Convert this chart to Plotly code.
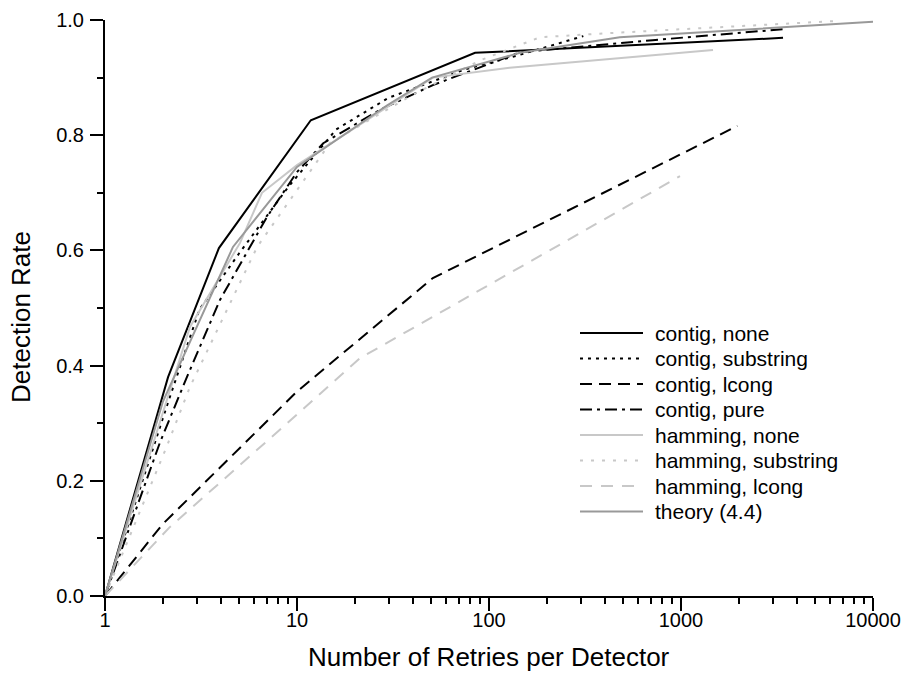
import plotly.graph_objects as go

# Detection rate versus number of retries per detector
contig_none_x = [1, 2.13, 3.92, 11.8, 84.6, 3400]
contig_none_y = [0.0, 0.38, 0.604, 0.826, 0.943, 0.969]

contig_substring_x = [1, 2.1, 3.1, 5.0, 9.0, 16, 30, 76, 133, 310]
contig_substring_y = [0.0, 0.33, 0.497, 0.595, 0.71, 0.81, 0.865, 0.915, 0.936, 0.972]

contig_lcong_x = [1, 2.0, 10.0, 51, 1965]
contig_lcong_y = [0.0, 0.125, 0.355, 0.552, 0.816]

contig_pure_x = [1, 1.93, 2.67, 3.97, 6.97, 10, 13.7, 27, 51, 145, 712, 3400]
contig_pure_y = [0.0, 0.266, 0.38, 0.514, 0.658, 0.736, 0.786, 0.844, 0.887, 0.944, 0.965, 0.984]

hamming_none_x = [1, 2.18, 2.77, 5.05, 6.57, 10, 51, 128, 1468]
hamming_none_y = [0.0, 0.357, 0.467, 0.613, 0.70, 0.748, 0.90, 0.917, 0.948]

hamming_substring_x = [1, 2.1, 2.77, 5.5, 6.2, 14.9, 40, 90, 184, 410, 6200]
hamming_substring_y = [0.0, 0.26, 0.363, 0.571, 0.606, 0.787, 0.87, 0.93, 0.97, 0.977, 0.998]

hamming_lcong_x = [1, 2.18, 10.4, 21.3, 207, 988]
hamming_lcong_y = [0.0, 0.12, 0.32, 0.413, 0.60, 0.729]

theory_x = [1, 2, 4.64, 10, 29.5, 50.5, 145, 480, 10000]
theory_y = [0.0, 0.337, 0.606, 0.745, 0.852, 0.90, 0.943, 0.970, 0.997]

x_tick_vals = [1, 10, 100, 1000, 10000]
x_tick_text = ["1", "10", "100", "1000", "10000"]

BLACK = "#000000"
LIGHT = "#c8c8c8"
MID = "#999999"
FONT = "Liberation Sans, Arial, Helvetica, sans-serif"

series = [
    ("contig, none", contig_none_x, contig_none_y, BLACK, "solid"),
    ("contig, substring", contig_substring_x, contig_substring_y, BLACK, "3px,5px"),
    ("contig, lcong", contig_lcong_x, contig_lcong_y, BLACK, "12px,7px"),
    ("contig, pure", contig_pure_x, contig_pure_y, BLACK, "12px,5px,3px,5px"),
    ("hamming, none", hamming_none_x, hamming_none_y, LIGHT, "solid"),
    ("hamming, substring", hamming_substring_x, hamming_substring_y, LIGHT, "3px,8px"),
    ("hamming, lcong", hamming_lcong_x, hamming_lcong_y, LIGHT, "12px,9px"),
    ("theory (4.4)", theory_x, theory_y, MID, "solid"),
]

fig = go.Figure()
for name, xs, ys, color, dash in series:
    fig.add_trace(go.Scatter(
        x=xs, y=ys, mode="lines", name=name,
        line=dict(color=color, width=2, dash=dash),
        showlegend=False,
    ))

# Hand-drawn legend block (line samples + labels)
L, R, T, B = 105, 873, 20, 596
W, H = R - L, B - T


def px_x(px):
    return (px - L) / W


def px_y(py):
    return (B - py) / H


shapes = []
annotations = []
row0, step = 333, 25.5
for i, (name, xs, ys, color, dash) in enumerate(series):
    yy = px_y(row0 + i * step)
    shapes.append(dict(
        type="line", xref="paper", yref="paper",
        x0=px_x(580), x1=px_x(643), y0=yy, y1=yy,
        line=dict(color=color, width=2, dash=dash),
    ))
    annotations.append(dict(
        xref="paper", yref="paper", x=px_x(653), y=yy,
        text=name, showarrow=False, xanchor="left", yanchor="middle",
        font=dict(family=FONT, size=21, color="black"),
    ))

annotations.append(dict(
    xref="paper", yref="paper", x=px_x(489), y=px_y(657),
    text="Number of Retries per Detector", showarrow=False,
    xanchor="center", yanchor="middle",
    font=dict(family=FONT, size=26, color="black"),
))
annotations.append(dict(
    xref="paper", yref="paper", x=px_x(21), y=px_y(317),
    text="Detection Rate", showarrow=False, textangle=-90,
    xanchor="center", yanchor="middle",
    font=dict(family=FONT, size=26, color="black"),
))

fig.update_layout(
    width=906, height=675,
    margin=dict(l=L, r=906 - R, t=T, b=675 - B, autoexpand=False),
    paper_bgcolor="white", plot_bgcolor="white",
    font=dict(family=FONT, size=19, color="black"),
    shapes=shapes, annotations=annotations,
    showlegend=False,
)

fig.update_xaxes(
    type="log", range=[0, 4], autorange=False, automargin=False,
    tickvals=x_tick_vals, ticktext=x_tick_text,
    showline=True, linecolor="black", linewidth=2,
    ticks="outside", ticklen=13, tickwidth=2, tickcolor="black",
    ticklabelstandoff=-8,
    minor=dict(ticks="outside", ticklen=6, tickwidth=1.5, tickcolor="black",
               dtick="D1", showgrid=False),
    showgrid=False, zeroline=False, mirror=False,
    tickfont=dict(family=FONT, size=20, color="black"),
)
fig.update_yaxes(
    range=[0, 1], autorange=False, automargin=False,
    tick0=0, dtick=0.2, tickformat=".1f",
    showline=True, linecolor="black", linewidth=2,
    ticks="outside", ticklen=13, tickwidth=2, tickcolor="black",
    ticklabelstandoff=2,
    minor=dict(ticks="outside", ticklen=6, tickwidth=1.5, tickcolor="black",
               dtick=0.1, showgrid=False),
    showgrid=False, zeroline=False, mirror=False,
    tickfont=dict(family=FONT, size=20, color="black"),
)

fig.write_html("out.html")
